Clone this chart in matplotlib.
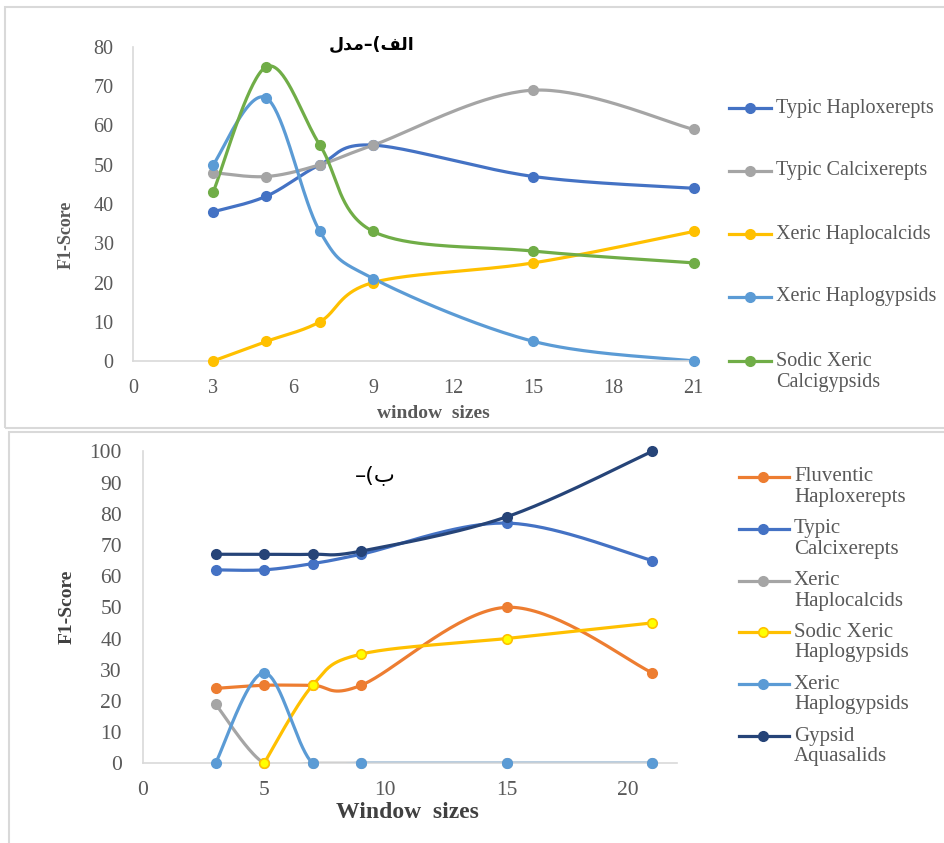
import numpy as np
import matplotlib
matplotlib.use("Agg")
import matplotlib.pyplot as plt
from matplotlib.lines import Line2D
from matplotlib.patches import Rectangle

plt.rcParams["font.family"] = ["Liberation Serif", "DejaVu Serif"]

W, H = 944, 843

# ---- data: panel (a) ----
a_x = [3, 5, 7, 9, 15, 21]
a_names = ["Typic Haploxerepts", "Typic Calcixerepts", "Xeric Haplocalcids",
           "Xeric Haplogypsids", "Sodic Xeric\nCalcigypsids"]
a_typic_haploxerepts = [38, 42, 50, 55, 47, 44]
a_typic_calcixerepts = [48, 47, 50, 55, 69, 59]
a_xeric_haplocalcids = [0, 5, 10, 20, 25, 33]
a_xeric_haplogypsids = [50, 67, 33, 21, 5, 0]
a_sodic_calcigypsids = [43, 75, 55, 33, 28, 25]
a_xticks = [0, 3, 6, 9, 12, 15, 18, 21]
a_yticks = [0, 10, 20, 30, 40, 50, 60, 70, 80]

# ---- data: panel (b) ----
b_x = [3, 5, 7, 9, 15, 21]
b_names = ["Fluventic\nHaploxerepts", "Typic\nCalcixerepts", "Xeric\nHaplocalcids",
           "Sodic Xeric\nHaplogypsids", "Xeric\nHaplogypsids", "Gypsid\nAquasalids"]
b_fluventic_haploxerepts = [24, 25, 25, 25, 50, 29]
b_typic_calcixerepts = [62, 62, 64, 67, 77, 65]
b_xeric_haplocalcids = [19, 0, 0, 0, 0, 0]
b_sodic_haplogypsids = [np.nan, 0, 25, 35, 40, 45]
b_xeric_haplogypsids = [0, 29, 0, 0, 0, 0]
b_gypsid_aquasalids = [67, 67, 67, 68, 79, 100]
b_xticks = [0, 5, 10, 15, 20]
b_yticks = [0, 10, 20, 30, 40, 50, 60, 70, 80, 90, 100]

BLUE, ORANGE, GRAY, GOLD = "#4472C4", "#ED7D31", "#A5A5A5", "#FFC000"
LBLUE, GREEN, NAVY = "#5B9BD5", "#70AD47", "#264478"
TXT = "#595959"

# (values, line colour, marker face colour)
a_series = [
    (a_typic_haploxerepts, BLUE, BLUE),
    (a_typic_calcixerepts, GRAY, GRAY),
    (a_xeric_haplocalcids, GOLD, GOLD),
    (a_xeric_haplogypsids, LBLUE, LBLUE),
    (a_sodic_calcigypsids, GREEN, GREEN),
]
b_series = [
    (b_fluventic_haploxerepts, ORANGE, ORANGE),
    (b_typic_calcixerepts, BLUE, BLUE),
    (b_xeric_haplocalcids, GRAY, GRAY),
    (b_sodic_haplogypsids, GOLD, "#FFFF00"),
    (b_xeric_haplogypsids, LBLUE, LBLUE),
    (b_gypsid_aquasalids, NAVY, NAVY),
]


def smooth(x, y, n=40):
    """Spreadsheet-style smoothed line: cubic Bezier through every point."""
    x = np.asarray(x, float)
    y = np.asarray(y, float)
    ok = ~np.isnan(y)
    p = np.column_stack([x[ok], y[ok]])
    ext = np.vstack([p[:1], p, p[-1:]])
    t = np.linspace(0, 1, n)[:, None]
    out = []
    for i in range(len(p) - 1):
        p0, p3 = p[i], p[i + 1]
        c1 = p0 + (p3 - ext[i]) / 6.0
        c2 = p3 - (ext[i + 3] - p0) / 6.0
        seg = ((1 - t) ** 3) * p0 + 3 * ((1 - t) ** 2) * t * c1 \
            + 3 * (1 - t) * t ** 2 * c2 + t ** 3 * p3
        out.append(seg if i == 0 else seg[1:])
    s = np.vstack(out)
    return s[:, 0], s[:, 1]


def fx(px):
    return px / W


def fy(py):
    return 1 - py / H


fig = plt.figure(figsize=(W / 100, H / 100), dpi=100)

# panel frames
fig.add_artist(Rectangle((fx(5), fy(428)), fx(960) - fx(5), fy(7) - fy(428),
                         transform=fig.transFigure, fill=False,
                         edgecolor="#D9D9D9", lw=1.5))
fig.add_artist(Rectangle((fx(9), fy(860)), fx(960) - fx(9), fy(432) - fy(860),
                         transform=fig.transFigure, fill=False,
                         edgecolor="#D9D9D9", lw=1.5))


def style_axes(ax, xticks, yticks, xlim, ylim, fs, pad_x, pad_y):
    ax.set_xlim(*xlim)
    ax.set_ylim(*ylim)
    ax.set_xticks(xticks)
    ax.set_yticks(yticks)
    for s in ("top", "right"):
        ax.spines[s].set_visible(False)
    for s in ("left", "bottom"):
        ax.spines[s].set_color("#D9D9D9")
        ax.spines[s].set_linewidth(1.2)
    ax.tick_params(axis="x", length=0, pad=pad_x, labelsize=fs, labelcolor=TXT)
    ax.tick_params(axis="y", length=0, pad=pad_y, labelsize=fs, labelcolor=TXT)
    ax.set_facecolor("none")


def draw_series(ax, x, series):
    for vals, lc, mc in series:
        sx, sy = smooth(x, vals)
        ax.plot(sx, sy, color=lc, lw=2.3, solid_capstyle="round", zorder=2)
        ax.plot(x, vals, ls="none", marker="o", ms=6.8, mfc=mc, mec=lc,
                mew=1.2, clip_on=False, zorder=3)


def draw_legend(names, series, rows, x0, x1, xm, xt, fs, gap):
    for name, (vals, lc, mc), ry in zip(names, series, rows):
        fig.add_artist(Line2D([fx(x0), fx(x1)], [fy(ry), fy(ry)],
                              transform=fig.transFigure, color=lc, lw=2.3))
        fig.add_artist(Line2D([fx(xm)], [fy(ry)], transform=fig.transFigure,
                              marker="o", ms=6.8, mfc=mc, mec=lc, mew=1.2))
        for k, line in enumerate(name.split("\n")):
            fig.text(fx(xt), fy(ry + k * gap), line, fontsize=fs, color=TXT,
                     va="center", ha="left")


# ---- panel (a) ----
ax1 = fig.add_axes([fx(133), fy(361), fx(699) - fx(133), fy(47) - fy(361)])
style_axes(ax1, a_xticks, a_yticks, (0, 21.2), (0, 80), 14.5, 13, 14)
draw_series(ax1, a_x, a_series)
fig.text(fx(66), fy(235), "F1-Score", rotation=90, fontsize=13,
         fontweight="bold", color=TXT, ha="center", va="center")
fig.text(fx(433), fy(414), "window  sizes", fontsize=14, fontweight="bold",
         color=TXT, ha="center", va="center")
fig.text(fx(372), fy(45),
         "\uFEDD\uFEAA\uFEE3\u2013(\uFED2\uFEDF\uFE8D",
         fontsize=12.5, fontweight="bold", family=["DejaVu Sans"],
         color="black", ha="center", va="center")
draw_legend(a_names, a_series, [108, 171, 234, 297, 361],
            729, 771, 750, 776, 14.5, 22)

# ---- panel (b) ----
ax2 = fig.add_axes([fx(142.7), fy(763.3), fx(676.6) - fx(142.7),
                    fy(451.3) - fy(763.3)])
style_axes(ax2, b_xticks, b_yticks, (0, 22), (0, 100), 15.5, 13, 15)
draw_series(ax2, b_x, b_series)
fig.text(fx(67), fy(607), "F1-Score", rotation=90, fontsize=14,
         fontweight="bold", color="#404040", ha="center", va="center")
fig.text(fx(407), fy(812), "Window  sizes", fontsize=17, fontweight="bold",
         color="#404040", ha="center", va="center")
fig.text(fx(375), fy(475), "\u2013(\uFE8F", fontsize=16,
         family=["DejaVu Sans"], color="black", ha="center", va="center")
draw_legend(b_names, b_series, [476.7, 528.7, 580.7, 632.3, 684.3, 736.3],
            739, 789, 763, 794, 15, 20.5)

fig.savefig("out.png", dpi=100)
